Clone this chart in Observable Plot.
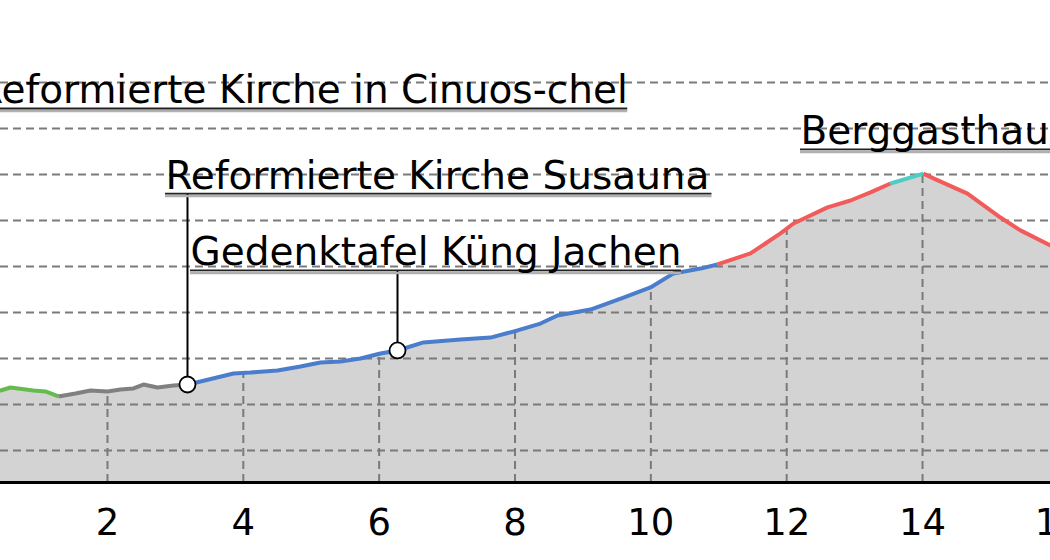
<!DOCTYPE html>
<html><head><meta charset="utf-8">
<script src="https://cdn.jsdelivr.net/npm/d3@7"></script>
<script src="https://cdn.jsdelivr.net/npm/@observablehq/plot@0.6"></script>
<style>
html,body{margin:0;padding:0;background:#fff;overflow:hidden;}
#chart svg{overflow:hidden;display:block;}
</style></head><body><div id="chart"></div>
<script>
// Elevation profile: distance (km) and elevation (m)
const distKm = [0.000, 0.425, 0.572, 0.910, 1.087, 1.279, 1.529, 1.750, 2.000, 2.191, 2.383, 2.530, 2.736, 2.972, 3.178,
  3.369, 3.855, 4.105, 4.503, 4.842, 5.136, 5.431, 5.725, 6.019, 6.270, 6.652, 7.197, 7.639, 8.037, 8.375, 8.626, 9.111,
  9.597, 9.995, 10.333, 10.731, 10.981, 11.467, 11.909, 12.100, 12.601, 12.939, 13.234, 13.528, 14.014, 14.161, 14.662,
  15.148, 15.442, 15.884, 16.326];
const elevM = [1662, 1661, 1674, 1661, 1657, 1635, 1648, 1661, 1657, 1665, 1670, 1687, 1674, 1683, 1687,
  1700, 1735, 1739, 1748, 1765, 1783, 1787, 1800, 1822, 1835, 1870, 1883, 1891, 1922, 1952, 1987, 2013,
  2065, 2109, 2170, 2191, 2209, 2257, 2344, 2387, 2457, 2487, 2522, 2561, 2604, 2583, 2517,
  2413, 2357, 2291, 2226];
// surface type of the stretch starting at each point
const segType = ["g","g","g","g","g","k","k","k","k","k","k","k","k","k","b",
  "b","b","b","b","b","b","b","b","b","b","b","b","b","b","b","b","b",
  "b","b","b","b","r","r","r","r","r","r","r","c","r","r","r",
  "r","r","r","r"];
const segKeys = ["g", "k", "b", "r", "c"];
const segColors = ["#66bb4f", "#808080", "#4a7dcc", "#f25b5b", "#4ecdc4"];

// grid / axis
const xTicks = [2, 4, 6, 8, 10, 12, 14, 16];
const gridElev = [1400, 1600, 1800, 2000, 2200, 2400, 2600, 2800, 3000];

// points of interest
const poiName = ["Reformierte Kirche in Cinuos-chel", "Reformierte Kirche Susauna", "Gedenktafel Küng Jachen", "Berggasthaus Dürrboden"];
const poiKm = [0.0, 3.178, 6.270, 19.6];
const poiLabelElev = [2887, 2517, 2183, 2709];
const poiLabelStartKm = [-2.0, 2.854, 3.222, 12.203];
const poiLabelEndKm = [9.66, 10.90, 10.45, 21.0];
const poiAnchor = ["end", "start", "start", "start"];

const yMin = 1261, yMax = 3356.5;
const xMin = 0.425, xMax = 15.884;

// build line pieces (boundary points duplicated)
const profile = [];
let run = -1, prev = null;
for (let i = 0; i < distKm.length - 1; i++) {
  if (segType[i] !== prev) { run++; prev = segType[i]; profile.push({km: distKm[i], elev: elevM[i], type: segType[i], run}); }
  profile.push({km: distKm[i + 1], elev: elevM[i + 1], type: segType[i], run});
}
const area = distKm.map((km, i) => ({km, elev: elevM[i]}));
const interp = (k) => {
  const i = d3.bisectRight(distKm, k);
  if (i <= 0) return elevM[0];
  if (i >= distKm.length) return elevM[elevM.length - 1];
  const t = (k - distKm[i - 1]) / (distKm[i] - distKm[i - 1]);
  return elevM[i - 1] + t * (elevM[i] - elevM[i - 1]);
};
const pois = poiName.map((name, i) => ({
  name, km: poiKm[i], elev: poiKm[i] <= distKm[distKm.length - 1] ? interp(poiKm[i]) : 2007,
  labelElev: poiLabelElev[i], x1: poiLabelStartKm[i], x2: poiLabelEndKm[i], anchor: poiAnchor[i]
}));

const font = "DejaVu Sans";
const chart = Plot.plot({
  width: 1050, height: 560,
  marginLeft: 0, marginRight: 0, marginTop: 0, marginBottom: 78,
  x: {domain: [xMin, xMax], axis: null},
  y: {domain: [yMin, yMax], axis: null},
  color: {domain: segKeys, range: segColors},
  style: {fontFamily: font, background: "white", color: "black"},
  marks: [
    Plot.areaY(area, {x: "km", y1: yMin, y2: "elev", fill: "#d3d3d3"}),
    Plot.ruleY(gridElev, {stroke: "#7a7a7a", strokeWidth: 2, strokeDasharray: "8,5"}),
    Plot.ruleX(xTicks, {x: d => d, y1: yMin, y2: d => interp(d), stroke: "#7a7a7a", strokeWidth: 2, strokeDasharray: "8,5"}),
    Plot.line(profile, {x: "km", y: "elev", z: "run", stroke: "type", strokeWidth: 4, strokeLinejoin: "round", strokeLinecap: "butt"}),
    Plot.ruleY([yMin], {stroke: "black", strokeWidth: 3}),
    Plot.axisX(xTicks, {tickSize: 0, tickPadding: 26, fontSize: 37, anchor: "bottom", fill: "black"}),
    // leaders
    Plot.ruleX(pois, {x: "km", y1: "labelElev", y2: "elev", stroke: "black", strokeWidth: 2}),
    // underline (shadow + line)
    Plot.ruleY(pois, {y: "labelElev", x1: "x1", x2: "x2", stroke: "#b0b0b0", strokeWidth: 2.5, dy: 2.5}),
    Plot.ruleY(pois, {y: "labelElev", x1: "x1", x2: "x2", stroke: "#222", strokeWidth: 1.8}),
    Plot.text(pois.filter(d => d.anchor === "start"), {x: "x1", y: "labelElev", text: "name", textAnchor: "start", lineAnchor: "bottom", dy: -5, fontSize: 39, fill: "black"}),
    Plot.text(pois.filter(d => d.anchor === "end"), {x: "x2", y: "labelElev", text: "name", textAnchor: "end", lineAnchor: "bottom", dy: -5, fontSize: 39, fill: "black"}),
    Plot.dot(pois, {x: "km", y: "elev", r: 8, fill: "white", stroke: "black", strokeWidth: 1.8})
  ]
});
document.getElementById("chart").appendChild(chart);
</script>
</body></html>
